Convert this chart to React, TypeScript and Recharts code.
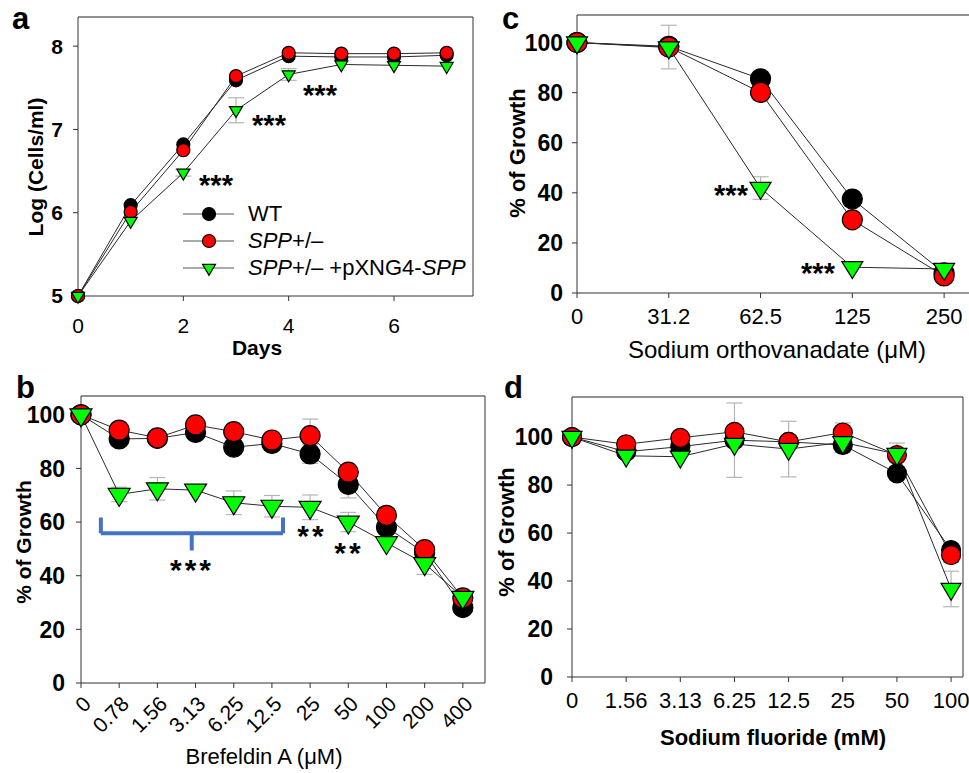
import { ErrorBar, Line, LineChart, ReferenceLine, XAxis, YAxis } from "recharts";

const FONT = "'Liberation Sans', Arial, Helvetica, sans-serif";
const BLACK = "#000000";
const RED = "#ff0000";
const GREEN = "#00ff00";
const ERR = "#b5b5b5";
const LINE = "#2a2a2a";
const AXIS = "#333333";
const FRAME = "#6e6e6e";

// a: growth curve, log(cells/ml)
const days = [0, 1, 2, 3, 4, 5, 6, 7];
const logWT = [5.0, 6.09, 6.82, 7.59, 7.88, 7.87, 7.87, 7.89];
const logSPP = [5.0, 6.01, 6.75, 7.64, 7.92, 7.91, 7.91, 7.92];
const logComp = [5.0, 5.9, 6.48, 7.23, 7.66, 7.78, 7.77, 7.76];
const logCompErr = [null, null, 0.04, 0.15, 0.07, null, null, null];

// b: brefeldin A, % of growth
const brefLabels = ["0", "0.78", "1.56", "3.13", "6.25", "12.5", "25", "50", "100", "200", "400"];
const brefWT = [100, 91, 91.2, 93.4, 87.9, 89.3, 85.4, 74, 58.1, 48.5, 28.1];
const brefSPP = [100, 94.3, 91.4, 96.2, 93.7, 90.6, 92.2, 78.6, 62.5, 49.7, 31.7];
const brefComp = [100, 70.3, 72.4, 71.9, 67.2, 65.9, 65.5, 60, 52.3, 44.5, 31.9];
const brefWTErr = [null, null, null, null, null, 2, 3.5, 5, null, 4, null];
const brefSPPErr = [null, null, null, null, null, null, 6.2, null, null, null, null];
const brefCompErr = [null, 2.7, 4.2, null, 4.4, 4, 4.6, 3.6, null, 4, null];
// bracket: left end, notch, right end (category index) / end tops, bar, notch tip (%)
const bracketX = [0.52, 2.9, 5.29];
const bracketY = [61.7, 55.8, 49.4];

// c: sodium orthovanadate
const vanLabels = ["0", "31.2", "62.5", "125", "250"];
const vanWT = [100, 98.5, 85.5, 37.5, 8];
const vanSPP = [100, 98.2, 80.1, 29.2, 6.8];
const vanComp = [100, 98, 41.9, 10.3, 9.6];
const vanSPPErr = [null, 8.7, 3, null, null];
const vanCompErr = [null, null, 4.5, null, null];

// d: sodium fluoride
const nafLabels = ["0", "1.56", "3.13", "6.25", "12.5", "25", "50", "100"];
const nafWT = [100, 93.9, 96, 98.7, 98, 96.7, 84.9, 52.9];
const nafSPP = [100, 97, 99.7, 102.2, 98, 101.9, 92.5, 50.8];
const nafComp = [100, 92.2, 91.8, 97.1, 95, 97.8, 92.9, 36.7];
const nafWTErr = [null, null, null, 15.5, null, 3, null, null];
const nafSPPErr = [null, null, null, null, null, 4, 5, 3];
const nafCompErr = [null, null, null, null, 11.6, null, null, 7.4];

type Num = number | null;

function buildRows(xs: number[], wt: number[], spp: number[], comp: number[], wtErr: Num[], sppErr: Num[], compErr: Num[]) {
  return xs.map((x, i) => ({
    x,
    wt: wt[i],
    spp: spp[i],
    comp: comp[i],
    wtErr: wtErr[i],
    sppErr: sppErr[i],
    compErr: compErr[i],
  }));
}

const none = (n: number): Num[] => Array(n).fill(null);
const idx = (n: number) => Array.from({ length: n }, (_, i) => i);

const rowsA = buildRows(days, logWT, logSPP, logComp, none(8), none(8), logCompErr);
const rowsB = buildRows(idx(11), brefWT, brefSPP, brefComp, brefWTErr, brefSPPErr, brefCompErr);
const rowsC = buildRows(idx(5), vanWT, vanSPP, vanComp, none(5), vanSPPErr, vanCompErr);
const rowsD = buildRows(idx(8), nafWT, nafSPP, nafComp, nafWTErr, nafSPPErr, nafCompErr);

const circle = (fill: string, r: number) => (p: any) => {
  const { cx, cy, index } = p;
  if (cx == null || cy == null) return <g key={`c${index}`} />;
  return <circle key={`c${index}`} cx={cx} cy={cy} r={r} fill={fill} stroke="#000" strokeWidth={1.2} />;
};

const triangle = (fill: string, w: number, h: number) => (p: any) => {
  const { cx, cy, index } = p;
  if (cx == null || cy == null) return <g key={`t${index}`} />;
  const top = cy - h / 3;
  const bot = cy + (2 * h) / 3;
  return (
    <polygon
      key={`t${index}`}
      points={`${cx - w / 2},${top} ${cx + w / 2},${top} ${cx},${bot}`}
      fill={fill}
      stroke="#000"
      strokeWidth={1.2}
    />
  );
};

function renderSeries(m: { r: number; w: number; h: number }) {
  const err = (key: string) => (
    <ErrorBar dataKey={key} direction="y" width={8} stroke={ERR} strokeWidth={1.2} isAnimationActive={false} />
  );
  return [
    <Line key="wt" type="linear" dataKey="wt" stroke={LINE} strokeWidth={1} dot={circle(BLACK, m.r)} activeDot={false} isAnimationActive={false}>
      {err("wtErr")}
    </Line>,
    <Line key="spp" type="linear" dataKey="spp" stroke={LINE} strokeWidth={1} dot={circle(RED, m.r)} activeDot={false} isAnimationActive={false}>
      {err("sppErr")}
    </Line>,
    <Line key="comp" type="linear" dataKey="comp" stroke={LINE} strokeWidth={1} dot={triangle(GREEN, m.w, m.h)} activeDot={false} isAnimationActive={false}>
      {err("compErr")}
    </Line>,
  ];
}

type Box = { x: number; y: number; w: number; h: number };
type Plot = { l: number; t: number; r: number; b: number };

function frame(box: Box, plot: Plot) {
  return {
    width: box.w,
    height: box.h,
    margin: { top: plot.t - box.y, right: box.x + box.w - plot.r, left: 0, bottom: 0 },
    yWidth: plot.l - box.x,
    xHeight: box.y + box.h - plot.b,
  };
}

function Text({ cx, cy, size, bold, rotate, children }: any) {
  return (
    <div
      style={{
        position: "absolute",
        left: cx,
        top: cy,
        transform: `translate(-50%, -50%)${rotate ? " rotate(-90deg)" : ""}`,
        fontSize: size,
        fontWeight: bold ? 700 : 400,
        lineHeight: 1,
        whiteSpace: "nowrap",
        color: "#000",
      }}
    >
      {children}
    </div>
  );
}

function Stars({ cx, cy, size, spacing = 0, text }: any) {
  return (
    <div
      style={{
        position: "absolute",
        left: cx,
        top: cy - size * 0.27,
        transform: "translateX(-50%)",
        fontSize: size,
        fontWeight: 700,
        lineHeight: 1,
        letterSpacing: spacing,
        whiteSpace: "nowrap",
        color: "#000",
      }}
    >
      {text}
    </div>
  );
}

function Letter({ x, y, children }: any) {
  return (
    <div style={{ position: "absolute", left: x, top: y, fontSize: 31, fontWeight: 700, lineHeight: 1 }}>{children}</div>
  );
}

const axisLine = { stroke: AXIS, strokeWidth: 1 };
const tickLine = { stroke: AXIS, strokeWidth: 1 };

function BrefTick(props: any) {
  const { x, y, payload } = props;
  const ox = x + 6;
  return (
    <text
      x={ox}
      y={y}
      transform={`rotate(-45 ${ox} ${y})`}
      textAnchor="end"
      dy="0.35em"
      fontSize={21}
      fontFamily={FONT}
      fill="#000"
    >
      {brefLabels[payload.value]}
    </text>
  );
}

function PanelA() {
  const f = frame({ x: 0, y: 0, w: 490, h: 370 }, { l: 78, t: 17, r: 473, b: 296 });
  return (
    <div style={{ position: "absolute", left: 0, top: 0 }}>
      <LineChart width={f.width} height={f.height} margin={f.margin} data={rowsA}>
        <XAxis
          type="number"
          dataKey="x"
          domain={[0, 7.5]}
          ticks={[0, 2, 4, 6]}
          interval={0}
          height={f.xHeight}
          axisLine={axisLine}
          tickLine={tickLine}
          tickSize={5}
          tickMargin={17}
          tick={{ fontSize: 21, fill: "#000", fontFamily: FONT }}
        />
        <YAxis
          type="number"
          domain={[5, 8.35]}
          ticks={[5, 6, 7, 8]}
          interval={0}
          width={f.yWidth}
          axisLine={axisLine}
          tickLine={tickLine}
          tickSize={5}
          tickMargin={10}
          tick={{ fontSize: 21, fontWeight: 700, fill: "#000", fontFamily: FONT }}
        />
        <ReferenceLine y={8.35} stroke={FRAME} strokeWidth={1.5} />
        <ReferenceLine x={7.5} stroke={AXIS} strokeWidth={1} />
        {renderSeries({ r: 6.5, w: 13, h: 11 })}
      </LineChart>
    </div>
  );
}

function PanelB() {
  const f = frame({ x: 0, y: 370, w: 490, h: 403 }, { l: 81, t: 396, r: 485, b: 683 });
  const seg = { stroke: "#4472c4", strokeWidth: 4 };
  return (
    <div style={{ position: "absolute", left: 0, top: 370 }}>
      <LineChart width={f.width} height={f.height} margin={f.margin} data={rowsB}>
        <XAxis
          type="number"
          dataKey="x"
          domain={[0, 10.58]}
          ticks={idx(11)}
          interval={0}
          height={f.xHeight}
          axisLine={axisLine}
          tickLine={tickLine}
          tickSize={5}
          tickMargin={12}
          tick={<BrefTick />}
        />
        <YAxis
          type="number"
          domain={[0, 107]}
          ticks={[0, 20, 40, 60, 80, 100]}
          interval={0}
          width={f.yWidth}
          axisLine={axisLine}
          tickLine={tickLine}
          tickSize={5}
          tickMargin={11}
          tick={{ fontSize: 23, fontWeight: 700, fill: "#000", fontFamily: FONT }}
        />
        <ReferenceLine y={107} stroke={FRAME} strokeWidth={1.5} />
        <ReferenceLine x={10.58} stroke={AXIS} strokeWidth={1} />
        <ReferenceLine segment={[{ x: bracketX[0], y: bracketY[0] }, { x: bracketX[0], y: bracketY[1] }]} {...seg} />
        <ReferenceLine segment={[{ x: bracketX[0], y: bracketY[1] }, { x: bracketX[2], y: bracketY[1] }]} {...seg} />
        <ReferenceLine segment={[{ x: bracketX[2], y: bracketY[0] }, { x: bracketX[2], y: bracketY[1] }]} {...seg} />
        <ReferenceLine segment={[{ x: bracketX[1], y: bracketY[1] }, { x: bracketX[1], y: bracketY[2] }]} {...seg} />
        {renderSeries({ r: 10, w: 22, h: 18 })}
      </LineChart>
    </div>
  );
}

function PanelC() {
  const f = frame({ x: 490, y: 0, w: 500, h: 370 }, { l: 577, t: 15, r: 990, b: 293 });
  return (
    <div style={{ position: "absolute", left: 490, top: 0 }}>
      <LineChart width={f.width} height={f.height} margin={f.margin} data={rowsC}>
        <XAxis
          type="number"
          dataKey="x"
          domain={[0, 4.5]}
          ticks={idx(5)}
          interval={0}
          tickFormatter={(v: number) => vanLabels[v]}
          height={f.xHeight}
          axisLine={axisLine}
          tickLine={tickLine}
          tickSize={5}
          tickMargin={10}
          tick={{ fontSize: 22, fill: "#000", fontFamily: FONT }}
        />
        <YAxis
          type="number"
          domain={[0, 111]}
          ticks={[0, 20, 40, 60, 80, 100]}
          interval={0}
          width={f.yWidth}
          axisLine={axisLine}
          tickLine={tickLine}
          tickSize={5}
          tickMargin={9}
          tick={{ fontSize: 23, fontWeight: 700, fill: "#000", fontFamily: FONT }}
        />
        <ReferenceLine y={111} stroke={FRAME} strokeWidth={1.5} />
        {renderSeries({ r: 10, w: 21, h: 17 })}
      </LineChart>
    </div>
  );
}

function PanelD() {
  const f = frame({ x: 490, y: 370, w: 479, h: 403 }, { l: 572, t: 397, r: 963, b: 677 });
  return (
    <div style={{ position: "absolute", left: 490, top: 370 }}>
      <LineChart width={f.width} height={f.height} margin={f.margin} data={rowsD}>
        <XAxis
          type="number"
          dataKey="x"
          domain={[0, 7.22]}
          ticks={idx(8)}
          interval={0}
          tickFormatter={(v: number) => nafLabels[v]}
          height={f.xHeight}
          axisLine={axisLine}
          tickLine={tickLine}
          tickSize={5}
          tickMargin={10}
          tick={{ fontSize: 22, fill: "#000", fontFamily: FONT }}
        />
        <YAxis
          type="number"
          domain={[0, 116.7]}
          ticks={[0, 20, 40, 60, 80, 100]}
          interval={0}
          width={f.yWidth}
          axisLine={axisLine}
          tickLine={tickLine}
          tickSize={5}
          tickMargin={14}
          tick={{ fontSize: 23, fontWeight: 700, fill: "#000", fontFamily: FONT }}
        />
        <ReferenceLine y={116.7} stroke={FRAME} strokeWidth={1.5} />
        <ReferenceLine x={7.22} stroke={AXIS} strokeWidth={1} />
        {renderSeries({ r: 9.5, w: 20, h: 17 })}
      </LineChart>
    </div>
  );
}

const legendA = [
  { label: <>WT</>, marker: "circle", fill: BLACK, cy: 214 },
  { label: <><i>SPP</i>+/–</>, marker: "circle", fill: RED, cy: 241 },
  { label: <><i>SPP</i>+/– +pXNG4-<i>SPP</i></>, marker: "triangle", fill: GREEN, cy: 268 },
];

function LegendA() {
  return (
    <>
      {legendA.map((item, i) => (
        <div key={i} style={{ position: "absolute", left: 183, top: item.cy - 12, height: 24, display: "flex", alignItems: "center" }}>
          <svg width={52} height={24} style={{ display: "block" }}>
            <line x1={0} y1={12} x2={51} y2={12} stroke="#555" strokeWidth={1} />
            {item.marker === "circle" ? (
              <circle cx={26} cy={12} r={6.5} fill={item.fill} stroke="#000" strokeWidth={1.2} />
            ) : (
              <polygon points={`${19.5},${8.3} ${32.5},${8.3} 26,${19.3}`} fill={item.fill} stroke="#000" strokeWidth={1.2} />
            )}
          </svg>
          <span style={{ marginLeft: 13, fontSize: 22, lineHeight: "24px", whiteSpace: "nowrap" }}>{item.label}</span>
        </div>
      ))}
    </>
  );
}

export default function App() {
  return (
    <div
      style={{
        position: "absolute",
        left: 0,
        top: 0,
        width: 969,
        height: 773,
        overflow: "hidden",
        background: "#fff",
        fontFamily: FONT,
      }}
    >
      <PanelA />
      <PanelB />
      <PanelC />
      <PanelD />

      <LegendA />

      <Letter x={12} y={3}>a</Letter>
      <Letter x={16} y={372}>b</Letter>
      <Letter x={502} y={3}>c</Letter>
      <Letter x={504} y={372}>d</Letter>

      <Text cx={35} cy={167} size={21} bold rotate>Log (Cells/ml)</Text>
      <Text cx={257} cy={347} size={21} bold>Days</Text>

      <Text cx={23} cy={542} size={21} bold rotate>% of Growth</Text>
      <Text cx={264} cy={757} size={22}>Brefeldin A (μM)</Text>

      <Text cx={518} cy={153} size={22} bold rotate>% of Growth</Text>
      <Text cx={777} cy={350} size={24}>Sodium orthovanadate (μM)</Text>

      <Text cx={507} cy={532} size={22} bold rotate>% of Growth</Text>
      <Text cx={773} cy={738} size={22} bold>Sodium fluoride (mM)</Text>

      <Stars cx={216} cy={179} size={29} text="***" />
      <Stars cx={269} cy={119} size={29} text="***" />
      <Stars cx={320} cy={89} size={29} text="***" />

      <Stars cx={731} cy={189} size={29} text="***" />
      <Stars cx={818} cy={267} size={29} text="***" />

      <Stars cx={192} cy={563} size={30} spacing={3} text="***" />
      <Stars cx={312} cy={529} size={30} spacing={3} text="**" />
      <Stars cx={349} cy={546} size={30} spacing={3} text="**" />
    </div>
  );
}
